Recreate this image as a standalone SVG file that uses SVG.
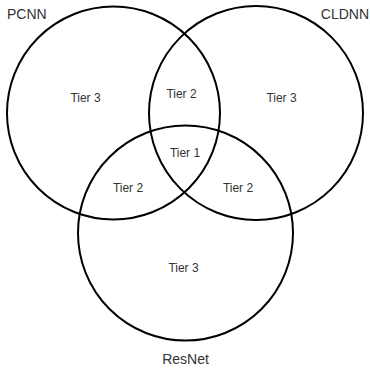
<svg xmlns="http://www.w3.org/2000/svg" width="370" height="371" viewBox="0 0 370 371">
<style>
.c{fill:none;stroke:#000;stroke-width:2}
.t{font-family:"Liberation Sans",Arial,sans-serif;font-size:12px;fill:#333;text-anchor:middle}
.n{font-family:"Liberation Sans",Arial,sans-serif;font-size:14px;fill:#333}
</style>
<rect width="370" height="371" fill="#fff"/>
<g id="pcnn"><circle class="c" cx="113.5" cy="113" r="106.5"/><text class="n" x="7" y="18.5">PCNN</text></g>
<g id="cldnn"><circle class="c" cx="256" cy="113" r="107"/><text class="n" x="369" y="18.5" text-anchor="end">CLDNN</text></g>
<g id="resnet"><circle class="c" cx="185.5" cy="233" r="107.5"/><text class="n" x="185.5" y="364" text-anchor="middle">ResNet</text></g>
<g id="labels">
<text class="t" x="85.5" y="102">Tier 3</text>
<text class="t" x="281.5" y="102">Tier 3</text>
<text class="t" x="183.5" y="272">Tier 3</text>
<text class="t" x="181.5" y="98">Tier 2</text>
<text class="t" x="128" y="192">Tier 2</text>
<text class="t" x="238" y="192">Tier 2</text>
<text class="t" x="185" y="157">Tier 1</text>
</g>
<g id="connectors"/>
</svg>
